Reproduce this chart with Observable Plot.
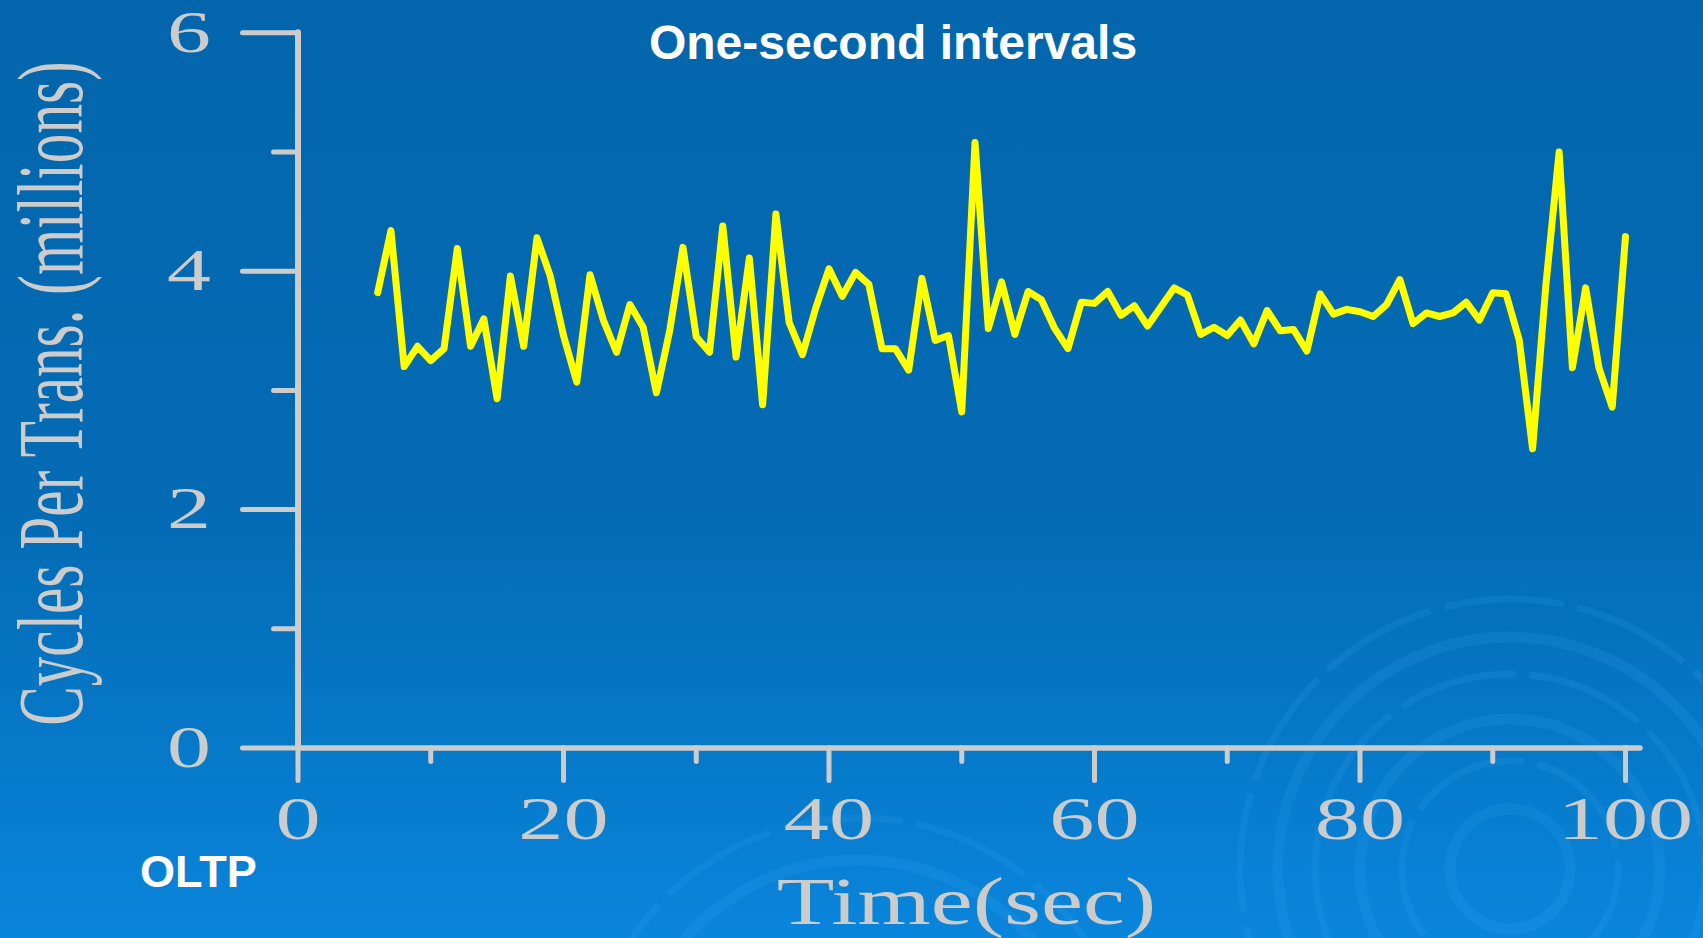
<!DOCTYPE html>
<html>
<head>
<meta charset="utf-8">
<script src="https://cdn.jsdelivr.net/npm/d3@7"></script>
<script src="https://cdn.jsdelivr.net/npm/@observablehq/plot@0.6"></script>
<style>
  html, body { margin: 0; padding: 0; }
  body {
    width: 1703px; height: 938px; overflow: hidden; position: relative;
    background: linear-gradient(to bottom, #0366ac 0%, #046bb5 55%, #0679c9 80%, #0a85dc 100%);
  }
  #rings { position: absolute; left: 0; top: 0; }
  #chart { position: absolute; left: 0; top: 0; }
</style>
</head>
<body>
<svg id="rings" width="1703" height="938"></svg>
<div id="chart"></div>
<script>
// Cycles per transaction (millions), sampled every second of an OLTP run
const seconds = [6, 7, 8, 9, 10, 11, 12, 13, 14, 15, 16, 17, 18, 19, 20, 21, 22, 23, 24, 25,
  26, 27, 28, 29, 30, 31, 32, 33, 34, 35, 36, 37, 38, 39, 40, 41, 42, 43, 44, 45,
  46, 47, 48, 49, 50, 51, 52, 53, 54, 55, 56, 57, 58, 59, 60, 61, 62, 63, 64, 65,
  66, 67, 68, 69, 70, 71, 72, 73, 74, 75, 76, 77, 78, 79, 80, 81, 82, 83, 84, 85,
  86, 87, 88, 89, 90, 91, 92, 93, 94, 95, 96, 97, 98, 99, 100];
const cyclesPerTrans = [3.82, 4.34, 3.20, 3.37, 3.25, 3.35, 4.19, 3.37, 3.60, 2.93,
  3.96, 3.37, 4.28, 3.96, 3.46, 3.07, 3.97, 3.59, 3.32, 3.72,
  3.53, 2.98, 3.50, 4.20, 3.45, 3.32, 4.38, 3.28, 4.11, 2.88,
  4.48, 3.57, 3.30, 3.69, 4.02, 3.79, 3.99, 3.89, 3.35, 3.35,
  3.17, 3.94, 3.42, 3.46, 2.82, 5.08, 3.52, 3.91, 3.47, 3.83,
  3.76, 3.52, 3.35, 3.74, 3.73, 3.83, 3.63, 3.71, 3.54, 3.70,
  3.86, 3.80, 3.47, 3.53, 3.46, 3.59, 3.39, 3.67, 3.50, 3.51,
  3.33, 3.81, 3.64, 3.68, 3.66, 3.62, 3.72, 3.93, 3.56, 3.65,
  3.62, 3.65, 3.74, 3.59, 3.82, 3.81, 3.42, 2.51, 3.88, 5.00,
  3.19, 3.86, 3.19, 2.86, 4.29];

const xTicks = [0, 20, 40, 60, 80, 100];
const xMinorTicks = [10, 30, 50, 70, 90];
const yTicks = [0, 2, 4, 6];
const yMinorTicks = [1, 3, 5];

const titleText = "One-second intervals";
const xLabel = "Time(sec)";
const yLabel = "Cycles Per Trans. (millions)";
const workloadLabel = "OLTP";

const series = seconds.map((t, i) => ({t, v: cyclesPerTrans[i]}));

const axisColor = "#cccccc";
const serif = "'Liberation Serif', 'Times New Roman', serif";
const sans = "'Liberation Sans', Arial, Helvetica, sans-serif";
const plain = d => String(d);

// decorative ripple rings in the slide background
const rings = d3.select("#rings");
[[1510, 869, [60, 108, 150, 195, 232, 270]], [858, 1090, [230, 272]]].forEach(([cx, cy, radii]) => {
  radii.forEach((r, i) => {
    rings.append("circle")
      .attr("cx", cx).attr("cy", cy).attr("r", r)
      .attr("fill", "none")
      .attr("stroke", "#3aa6f5")
      .attr("stroke-opacity", 0.16)
      .attr("stroke-width", i % 2 ? 7 : 11)
      .attr("stroke-dasharray", i % 2 ? "120 14" : null);
  });
});

const chart = Plot.plot({
  width: 1703,
  height: 938,
  marginLeft: 297.5,
  marginRight: 78,
  marginTop: 32.3,
  marginBottom: 190.5,
  style: {background: "transparent", overflow: "visible"},
  x: {domain: [0, 100]},
  y: {domain: [0, 6]},
  marks: [
    Plot.axisX(xTicks, {
      tickSize: 33, tickPadding: 15, fontSize: 61, fontFamily: serif, tickFormat: plain,
      color: axisColor, strokeWidth: 5, strokeLinecap: "round", label: null
    }),
    Plot.axisX(xMinorTicks, {
      tickSize: 14, tickFormat: () => "", color: axisColor,
      strokeWidth: 5, strokeLinecap: "round", label: null
    }),
    Plot.axisY(yTicks, {
      tickSize: 55, tickPadding: 32, fontSize: 59, fontFamily: serif, tickFormat: plain,
      color: axisColor, strokeWidth: 5, strokeLinecap: "round", label: null
    }),
    Plot.axisY(yMinorTicks, {
      tickSize: 24, tickFormat: () => "", color: axisColor,
      strokeWidth: 5, strokeLinecap: "round", label: null
    }),
    Plot.ruleY([0], {stroke: axisColor, strokeWidth: 5.5, strokeLinecap: "round", insetRight: -15}),
    Plot.ruleX([0], {stroke: axisColor, strokeWidth: 6, strokeLinecap: "round"}),
    Plot.line(series, {
      x: "t", y: "v", stroke: "#ffff00", strokeWidth: 7,
      strokeLinejoin: "round", strokeLinecap: "round"
    })
  ]
});

document.getElementById("chart").appendChild(chart);

// widen the serif tick numerals about their anchor point
function stretchText(sel, sx) {
  sel.each(function () {
    const b = this.getBBox();
    const anchor = getComputedStyle(this).textAnchor || "start";
    const ax = anchor === "end" ? b.x + b.width : anchor === "middle" ? b.x + b.width / 2 : b.x;
    const t = this.getAttribute("transform") || "";
    this.setAttribute("transform", `${t} translate(${ax},0) scale(${sx},1) translate(${-ax},0)`);
  });
}
const svg = d3.select(chart);
stretchText(svg.selectAll("g[aria-label='x-axis tick label'] text"), 1.48);
stretchText(svg.selectAll("g[aria-label='y-axis tick label'] text"), 1.49);

// titles and axis names
svg.append("text")
  .attr("x", 893).attr("y", 59)
  .attr("text-anchor", "middle")
  .attr("font-family", sans).attr("font-weight", "bold").attr("font-size", 48)
  .attr("fill", "#ffffff")
  .text(titleText);

svg.append("text")
  .attr("x", 140).attr("y", 887)
  .attr("text-anchor", "start")
  .attr("font-family", sans).attr("font-weight", "bold").attr("font-size", 45)
  .attr("fill", "#ffffff")
  .text(workloadLabel);

svg.append("text")
  .attr("transform", "translate(966.5,924) scale(1.41,1)")
  .attr("text-anchor", "middle")
  .attr("font-family", serif).attr("font-size", 67)
  .attr("fill", axisColor)
  .text(xLabel);

svg.append("text")
  .attr("transform", "translate(82,393.5) rotate(-90) scale(0.63,1)")
  .attr("text-anchor", "middle")
  .attr("font-family", serif).attr("font-size", 94)
  .attr("fill", axisColor)
  .text(yLabel);
</script>
</body>
</html>
